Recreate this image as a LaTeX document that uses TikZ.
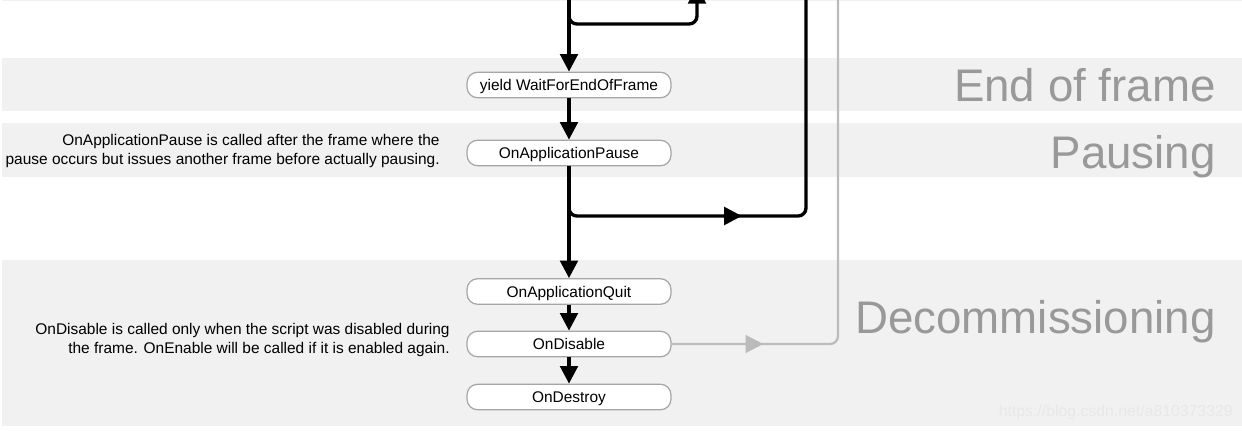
\documentclass[tikz,border=0pt]{standalone}
\usepackage{fontspec}
\setmainfont{Liberation Sans}
\usepackage{tikz}
\usetikzlibrary{decorations.markings,arrows.meta}
\definecolor{bandgray}{HTML}{F1F1F1}
\definecolor{labelgray}{HTML}{999999}
\definecolor{linegray}{HTML}{BBBBBB}
\definecolor{boxgray}{HTML}{A6A6A6}
\tikzset{band/.style={fill=bandgray,draw=none},
  event/.style={draw=boxgray,line width=0.7pt,fill=white,rounded corners=6pt,minimum width=4.08cm,minimum height=0.51cm,inner sep=0pt,text height=6.5pt,text depth=0pt,font=\fontsize{8.8}{10}\selectfont},
  phase/.style={anchor=base east,text=labelgray,inner sep=0pt,font=\fontsize{26}{30}\selectfont},
  note/.style={anchor=east,align=right,inner sep=0pt,font=\fontsize{8.8}{10.4}\selectfont},
  flow/.style={line width=1.9pt,-{Triangle[length=10pt,width=10pt]}},
  midflow/.style={line width=1.9pt,decoration={markings,mark=at position #1 with {\arrow{Triangle[length=10pt,width=10pt]}}},postaction={decorate}}}

\begin{document}
\begin{tikzpicture}[x=0.02cm,y=-0.02cm]
\useasboundingbox (0,0) rectangle (1242,430);
\clip (0,0) rectangle (1242,430);
\fill[band] (2,-5) rectangle (1242,1);
\fill[band] (2,58) rectangle (1242,111);
\fill[band] (2,123) rectangle (1242,177);
\fill[band] (2,260) rectangle (1242,426);
\node[phase] (endframe) at (1216,101) {End of frame};
\node[phase] (pausing) at (1216,168) {Pausing};
\node[phase] (decomm) at (1216,333) {Decommissioning};

\coordinate (top) at (569,-2);
\coordinate (looptop) at (697,-14);
\coordinate (pauseloop) at (806,-2);
\coordinate (disableloop) at (838,-2);

\node[event] (yield) at (569,85) {yield WaitForEndOfFrame};
\node[event] (pause) at (569,153) {OnApplicationPause};
\node[event] (quit) at (569,291.5) {OnApplicationQuit};
\node[event] (disable) at (569,344) {OnDisable};
\node[event] (destroy) at (569,397) {OnDestroy};

\draw[flow] (top) -- (yield);
\draw[flow,rounded corners=4.5pt] (top) |- (697,24) -- (looptop);
\draw[flow] (yield) -- (pause);
\draw[midflow=0.44,rounded corners=4.5pt] (pause.south) -- (569,216) -| (pauseloop);
\draw[flow] (pause) -- (quit);
\draw[flow] (quit) -- (disable);
\draw[flow] (disable) -- (destroy);
\draw[midflow=0.18,linegray,line width=1.3pt,rounded corners=4.5pt] (disable) -| (disableloop);

\node[note] (pausenote) at (440,151) {OnApplicationPause is called after the frame where the\\pause occurs but issues another frame before actually pausing.};
\node[note] (disablenote) at (450,340) {OnDisable is called only when the script was disabled during\\the frame. OnEnable will be called if it is enabled again.};
\node[anchor=east,inner sep=0pt,text=white!82!gray,font=\fontsize{9}{9}\selectfont] (watermark) at (1233,412) {https://blog.csdn.net/a810373329};
\end{tikzpicture}
\end{document}
